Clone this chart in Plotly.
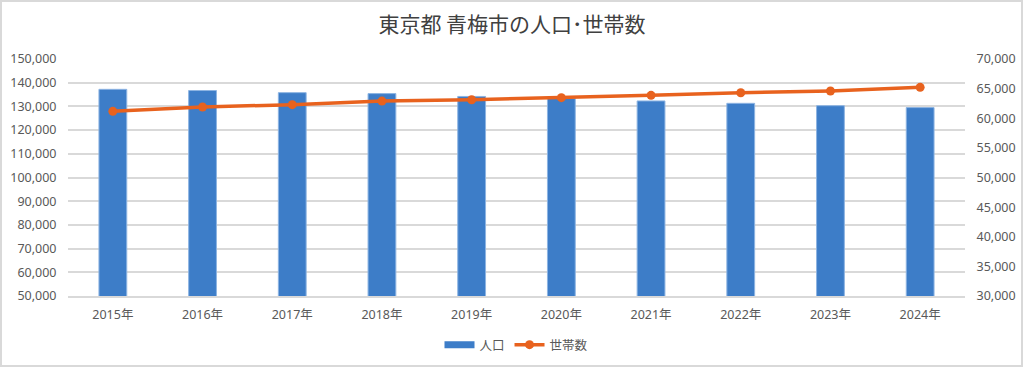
import plotly.graph_objects as go

years = ["2015年", "2016年", "2017年", "2018年", "2019年", "2020年", "2021年", "2022年", "2023年", "2024年"]
population = [137200, 136700, 135800, 135400, 134200, 133400, 132300, 131300, 130300, 129500]
households = [61170, 61900, 62290, 62900, 63130, 63470, 63870, 64310, 64600, 65220]

left_ticks = list(range(50000, 150001, 10000))
right_ticks = list(range(30000, 70001, 5000))

FONT = "Noto Sans, Noto Sans CJK JP, sans-serif"
CJK = "Noto Sans CJK JP, sans-serif"
GRAY = "#595959"
BLUE = "#3D7DC8"
ORANGE = "#E8621E"

fig = go.Figure()
fig.add_trace(go.Bar(
    x=years, y=population, name="人口",
    marker=dict(color=BLUE, line=dict(color="#8DB4E2", width=1)),
    yaxis="y", showlegend=False,
))
fig.add_trace(go.Scatter(
    x=[None], y=[None], name="人口", mode="lines",
    line=dict(color=BLUE, width=7), yaxis="y",
))
fig.add_trace(go.Scatter(
    x=years, y=households, name="世帯数", mode="lines+markers",
    line=dict(color=ORANGE, width=3.5),
    marker=dict(color=ORANGE, size=9),
    yaxis="y2",
))

L, R, T, B = 68, 59, 59, 72
pw, ph = 1024 - L - R, 368 - T - B

fig.update_layout(
    width=1024, height=368,
    margin=dict(l=L, r=R, t=T, b=B, autoexpand=False),
    paper_bgcolor="white", plot_bgcolor="white",
    font=dict(family=FONT, color=GRAY, size=12.5),
    title=dict(text="東京都 青梅市の人口･世帯数", x=0.5, xanchor="center",
               y=1 - 25 / 368, yanchor="middle",
               font=dict(size=21, color="#404040", family=CJK)),
    bargap=0.69,
    xaxis=dict(range=[-0.5, len(years) - 0.5], showgrid=False, showline=True,
               linecolor="#D9D9D9", linewidth=1.5,
               ticks="outside", ticklen=6, tickcolor="rgba(0,0,0,0)", automargin=False,
               tickfont=dict(size=12.5, color=GRAY, family=FONT)),
    yaxis=dict(range=[50000, 150000], tickvals=left_ticks, tickformat=",",
               showgrid=True, gridcolor="#D9D9D9", gridwidth=1.5, zeroline=False,
               ticks="outside", ticklen=8, tickcolor="rgba(0,0,0,0)", automargin=False,
               tickfont=dict(size=12.5, color=GRAY)),
    yaxis2=dict(range=[30000, 70000], tickvals=right_ticks, tickformat=",",
                overlaying="y", side="right", showgrid=False, zeroline=False,
                ticks="outside", ticklen=8, tickcolor="rgba(0,0,0,0)", automargin=False,
                tickfont=dict(size=12.5, color=GRAY)),
    legend=dict(orientation="h", x=0.5, xanchor="center", y=-(345 - 296) / ph,
                yanchor="middle", font=dict(size=12.5, color=GRAY, family=CJK),
                traceorder="normal"),
    shapes=[dict(type="rect", xref="paper", yref="paper",
                 x0=-(L - 1) / pw, x1=1 + (R - 2) / pw,
                 y0=-(B - 2) / ph, y1=1 + (T - 1) / ph,
                 line=dict(color="#D9D9D9", width=2), layer="below")],
)

fig.write_html("out.html", config={"displayModeBar": False},
               post_script="document.body.style.margin='0';document.body.style.overflow='hidden';")
